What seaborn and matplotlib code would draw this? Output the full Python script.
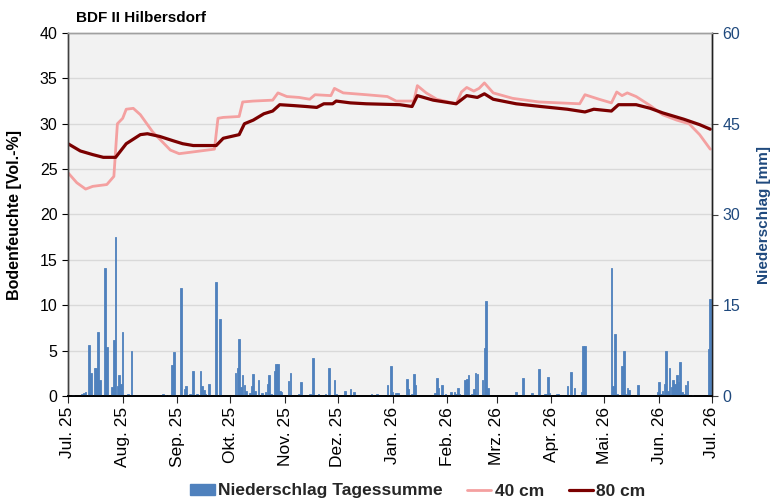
import numpy as np
import pandas as pd
import matplotlib
matplotlib.use("Agg")
import matplotlib.pyplot as plt
import seaborn as sns
from matplotlib.patches import Patch
from matplotlib.lines import Line2D

# ---------------- data ----------------
start_date = "2025-07-01"
month_labels = ["Jul. 25", "Aug. 25", "Sep. 25", "Okt. 25", "Nov. 25", "Dez. 25",
                "Jan. 26", "Feb. 26", "Mrz. 26", "Apr. 26", "Mai. 26", "Jun. 26", "Jul. 26"]

# daily precipitation (day offset from 1 Jul 2025, mm)
precip_day = [3, 8, 9, 10, 12, 13, 15, 16, 17, 18, 21, 22, 25, 26, 27, 28, 29, 30, 31, 34, 36,
              54, 55, 57, 59, 60, 64, 66, 67, 69, 71, 73, 75, 76, 77, 78, 80, 84, 86,
              95, 96, 97, 98, 99, 100, 101, 103, 104, 105, 106, 108, 110, 112, 113, 114, 115,
              117, 118, 119, 120, 121, 125, 126, 131, 132, 137, 139, 142, 146, 148, 151, 152,
              157, 160, 162, 172, 175, 181, 183, 184, 186, 187, 192, 193, 195, 196, 197,
              208, 209, 210, 212, 214, 217, 219, 220, 221, 222, 225, 226, 227, 229, 230, 231,
              232, 235, 236, 237, 238, 254, 258, 263, 267, 270, 271, 272, 273, 277, 278,
              283, 285, 287, 291, 292, 293, 308, 309, 310, 311, 314, 315, 316, 317, 318, 323,
              334, 335, 336, 337, 338, 339, 340, 341, 342, 343, 344, 345, 346, 347, 348, 349,
              350, 351, 354, 363, 364]
precip_mm = [0.1, 0.4, 0.5, 0.7, 8.5, 3.8, 4.7, 4.7, 10.5, 2.6, 21.1, 8.1, 1.5, 9.3, 26.2, 1.7, 3.5, 2.0, 10.5, 0.4, 7.4,
             0.3, 0.2, 0.2, 5.1, 7.3, 17.9, 1.2, 1.7, 0.3, 4.2, 0.3, 4.1, 1.7, 1.0, 0.3, 2.0, 18.8, 12.8,
             3.8, 4.6, 9.5, 1.5, 3.4, 1.9, 0.8, 0.5, 1.6, 3.7, 0.9, 2.6, 0.5, 0.7, 2.0, 3.4, 0.4,
             4.1, 5.3, 5.3, 0.8, 0.7, 2.4, 3.8, 0.4, 2.3, 0.4, 6.2, 0.3, 0.3, 4.6, 2.6, 0.4,
             0.9, 1.2, 0.7, 0.4, 0.4, 1.9, 5.0, 0.7, 0.5, 0.5, 2.8, 1.2, 0.4, 3.6, 1.9,
             0.5, 3.0, 1.3, 1.9, 0.3, 0.7, 0.7, 0.3, 1.3, 0.3, 2.6, 2.8, 3.4, 0.3, 1.2, 3.8,
             3.6, 2.7, 7.9, 15.7, 1.3, 0.7, 3.0, 0.5, 4.4, 0.3, 0.4, 3.1, 0.5, 0.4, 0.4,
             1.7, 3.9, 1.3, 0.7, 8.3, 8.2, 21.1, 1.6, 10.2, 0.3, 5.0, 7.4, 0.4, 1.3, 1.0, 1.9,
             0.7, 2.3, 0.3, 0.8, 2.0, 7.4, 0.8, 4.7, 1.5, 2.7, 2.0, 3.5, 2.3, 5.6, 0.7, 0.4,
             1.9, 2.5, 0.2, 7.8, 16.0]

# soil moisture 40 cm (day offset, Vol.-%)
sm40_day = [0, 5, 10, 14, 22, 26, 28, 31, 33, 37, 41, 48, 58, 63, 71, 83, 85, 88, 97, 99, 105,
            116, 119, 124, 131, 137, 140, 149, 151, 156, 169, 181, 186, 196, 198, 203, 209,
            220, 223, 226, 230, 233, 236, 241, 252, 267, 290, 293, 301, 308, 311, 314, 317,
            322, 330, 337, 345, 352, 358, 364]
sm40_val = [24.6, 23.5, 22.8, 23.1, 23.3, 24.2, 30.0, 30.6, 31.6, 31.7, 31.0, 29.1, 27.1, 26.7,
            26.9, 27.2, 30.6, 30.7, 30.8, 32.4, 32.5, 32.6, 33.4, 33.0, 32.9, 32.7, 33.2, 33.1,
            33.9, 33.4, 33.2, 33.0, 32.5, 32.5, 34.2, 33.4, 32.7, 32.2, 33.5, 34.0, 33.6, 33.9,
            34.5, 33.4, 32.8, 32.4, 32.2, 33.2, 32.7, 32.3, 33.5, 33.1, 33.4, 33.0, 32.0, 31.0,
            30.4, 30.0, 28.8, 27.2]

# soil moisture 80 cm (day offset, Vol.-%)
sm80_day = [0, 7, 14, 20, 27, 33, 41, 45, 52, 60, 65, 71, 84, 88, 97, 100, 105, 111, 116,
            120, 128, 135, 141, 145, 150, 152, 160, 169, 188, 195, 198, 207, 220, 226, 232,
            236, 241, 254, 268, 283, 293, 298, 308, 312, 322, 330, 337, 349, 358, 364]
sm80_val = [27.8, 27.0, 26.6, 26.3, 26.3, 27.8, 28.8, 28.9, 28.6, 28.1, 27.8, 27.6, 27.6,
            28.4, 28.8, 30.0, 30.4, 31.1, 31.4, 32.1, 32.0, 31.9, 31.8, 32.2, 32.2, 32.5,
            32.3, 32.2, 32.1, 31.9, 33.1, 32.6, 32.2, 33.1, 32.9, 33.3, 32.7, 32.2, 31.9,
            31.6, 31.3, 31.6, 31.4, 32.1, 32.1, 31.7, 31.2, 30.5, 29.9, 29.4]

# ---------------- styling ----------------
sns.set_theme(style="white")
plt.rcParams["font.family"] = ["Liberation Sans", "DejaVu Sans"]

blue = "#4F81BD"
pink = "#F4A0A0"
darkred = "#7B0000"
axis_blue = "#1F497D"

month_pos = (pd.date_range(start_date, periods=13, freq="MS") - pd.Timestamp(start_date)).days

precip_df = pd.DataFrame({"day": precip_day, "mm": precip_mm})
sm40_df = pd.DataFrame({"day": sm40_day, "val": sm40_val})
sm80_df = pd.DataFrame({"day": sm80_day, "val": sm80_val})

fig = plt.figure(figsize=(7.8, 5.04), dpi=100)
ax = fig.add_axes([68 / 780, 108 / 504, 644 / 780, 363 / 504])
ax.set_facecolor("#F2F2F2")
ax2 = ax.twinx()

# precipitation bars (right axis)
sns.barplot(data=precip_df, x="day", y="mm", native_scale=True, width=0.9,
            color=blue, saturation=1.0, errorbar=None, ax=ax2,
            edgecolor=blue, linewidth=0.6)

# soil moisture lines (left axis)
sns.lineplot(data=sm40_df, x="day", y="val", ax=ax, color=pink, linewidth=2.0)
sns.lineplot(data=sm80_df, x="day", y="val", ax=ax, color=darkred, linewidth=2.3)

ax.set_xlim(0, 365)
ax2.set_xlim(0, 365)
ax.set_ylim(0, 40)
ax.set_yticks(np.arange(0, 41, 5))
ax2.set_ylim(0, 60)
ax2.set_yticks(np.arange(0, 61, 15))
ax.set_xticks(month_pos)
ax.set_xticklabels(month_labels, rotation=90, fontsize=12.5, color="black")
ax.tick_params(axis="y", labelsize=11.5, colors="black", length=4, width=0.8, direction="out", left=True)
ax.tick_params(axis="x", length=5, width=0.8, direction="out", bottom=True, pad=3)
ax2.tick_params(axis="y", labelsize=11.5, labelcolor=axis_blue, colors="#404040", length=4,
                width=0.8, direction="out", right=True)
for t in ax2.get_yticklabels():
    t.set_color(axis_blue)

ax.grid(axis="y", color="#D9D9D9", linewidth=1.0)
ax.grid(axis="x", visible=False)
ax2.grid(False)
ax.set_axisbelow(True)

ax.set_ylabel("Bodenfeuchte [Vol.-%]", fontsize=11.5, fontweight="bold", color="black", labelpad=13)
ax2.set_ylabel("Niederschlag [mm]", fontsize=11, fontweight="bold", color=axis_blue, labelpad=12)
ax.set_xlabel("")
ax2.set_xlabel("")

for a in (ax, ax2):
    a.spines["top"].set_color("#A0A0A0")
    a.spines["left"].set_color("#404040")
    a.spines["bottom"].set_color("black")
    a.spines["right"].set_color("#202020")
    for s in a.spines.values():
        s.set_linewidth(1.0)
    a.spines["bottom"].set_linewidth(1.3)

fig.text(76 / 780, 1 - 18 / 504, "BDF II Hilbersdorf", fontsize=11, fontweight="bold",
         color="black", va="center", ha="left")

handles = [Patch(facecolor=blue, edgecolor=blue),
           Line2D([0], [0], color=pink, linewidth=2.0),
           Line2D([0], [0], color=darkred, linewidth=2.3)]
labels = ["Niederschlag Tagessumme", "40 cm", "80 cm"]
fig.legend(handles, labels, loc="center", bbox_to_anchor=(418 / 780, 1 - 491 / 504), ncol=3,
           frameon=False, handlelength=1.4, handleheight=0.6, handletextpad=0.2,
           columnspacing=1.4,
           prop={"family": ["Liberation Sans", "DejaVu Sans"], "weight": "bold", "size": 12.5})

fig.savefig("out.png", dpi=100)
